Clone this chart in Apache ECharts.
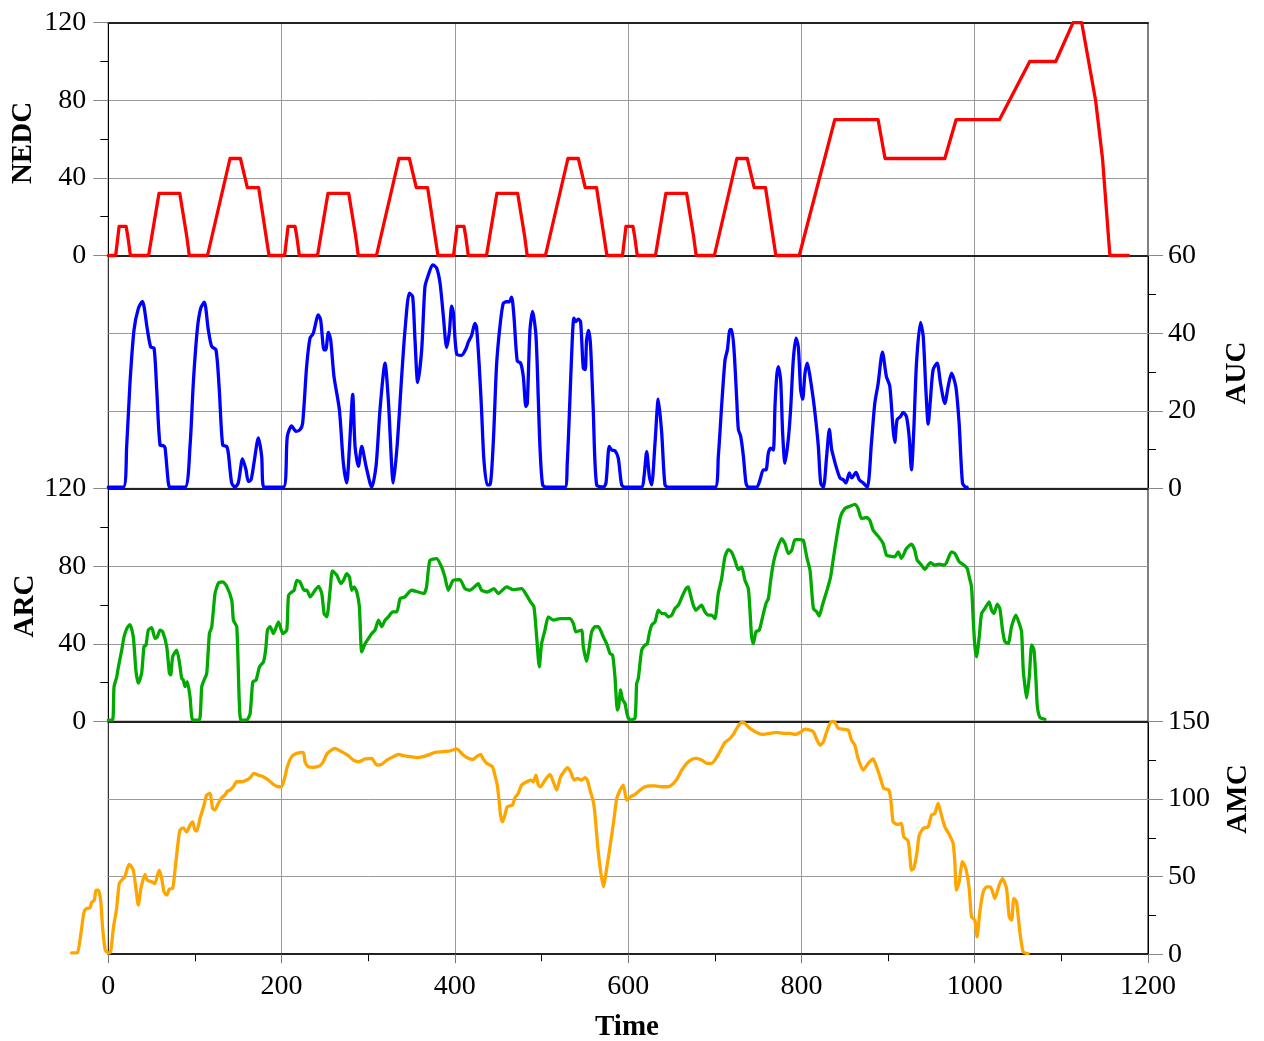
<!DOCTYPE html>
<html>
<head>
<meta charset="utf-8">
<title>NEDC / AUC / ARC / AMC</title>
<script src="https://cdn.jsdelivr.net/npm/echarts@6/dist/echarts.min.js"></script>
<style>
  html, body { margin: 0; padding: 0; background: #fff; }
  #chart { width: 1264px; height: 1041px; }
</style>
</head>
<body>
<div id="chart"></div>
<script>
// Tick values of the shared time axis and of each panel's value axis
const timeTicks = [0, 200, 400, 600, 800, 1000, 1200];
const nedcTicks = [0, 40, 80, 120];
const aucTicks = [0, 20, 40, 60];
const arcTicks = [0, 40, 80, 120];
const amcTicks = [0, 50, 100, 150];

// Panel titles
const panelNames = ['NEDC', 'AUC', 'ARC', 'AMC'];
const timeName = 'Time';

// NEDC speed profile: [time, speed]
const nedc = [
  [0,0],[8.5,0],[12.5,15],[20.5,15],[22.5,10],[25.5,0],[46.5,0],[58.5,32],[82.5,32],[90.5,10],[93.5,0],[114.5,0],[140.5,50],[152.5,50],[160.5,35],[173.5,35],[185.5,0],
  [203.5,0],[207.5,15],[215.5,15],[217.5,10],[220.5,0],[241.5,0],[253.5,32],[277.5,32],[285.5,10],[288.5,0],[309.5,0],[335.5,50],[347.5,50],[355.5,35],[368.5,35],[380.5,0],
  [398.5,0],[402.5,15],[410.5,15],[412.5,10],[415.5,0],[436.5,0],[448.5,32],[472.5,32],[480.5,10],[483.5,0],[504.5,0],[530.5,50],[542.5,50],[550.5,35],[563.5,35],[575.5,0],
  [593.5,0],[597.5,15],[605.5,15],[607.5,10],[610.5,0],[631.5,0],[643.5,32],[667.5,32],[675.5,10],[678.5,0],[699.5,0],[725.5,50],[737.5,50],[745.5,35],[758.5,35],[770.5,0],
  [797.5,0],[838.5,70],[888.5,70],[896.5,50],[965.5,50],[978.5,70],[1028.5,70],[1063.5,100],[1093.5,100],[1113.5,120],[1123.5,120],[1139.5,80],[1147.5,50],[1156,0],[1177.5,0]
];

// AUC trace: [time, value]
const auc = [
  [0,0.3],[17.3,0.3],[21.2,10.8],[25,27.1],[29.7,40.9],[34.7,46.4],[39.3,48.2],[45.1,40.9],[49,36.4],[52.8,36.2],[55.9,25.4],[59.7,11.2],[63.6,11],[65.5,10.5],[69.3,1.4],[71.2,0.3],
  [88.5,0.3],[94.3,10.8],[98.1,27.1],[102.7,40.9],[106.6,46.4],[110.8,48],[115.4,40.9],[119.3,36.6],[124.3,35.7],[128.1,25.4],[132,11.2],[136.6,10.8],[138.5,9.1],[142.4,1.4],[146.2,0.3],
  [150,1.4],[155,7.6],[158.9,4.8],[161.6,1.8],[164.7,2.2],[168.1,6.5],[173.2,13],[177,8.3],[179.7,0.3],[202,0.3],[206.6,13.4],[211.6,16.1],[216.6,14.7],[221.2,15.1],[224.3,16.8],
  [228.9,31.4],[232.8,38.7],[236.6,40],[242.4,44.7],[245.1,43.4],[249,35.7],[250.9,35.7],[254,40.2],[256.7,38.2],[260.5,28.8],[266.7,20.3],[271.3,6.5],[275.2,1.4],[278.2,10.1],
  [282.1,24.2],[284.8,10.8],[288.6,5.7],[292.5,10.8],[297.5,5.7],[304,0.3],[309,5.7],[313.6,20.3],[319.4,32.3],[323.2,22.8],[329,1.4],[333.6,11.7],[338.6,28.8],[342.5,40.9],
  [347.5,50.3],[351.3,49.4],[354,38.2],[357.1,27.3],[361.7,35.7],[365.5,52],[369.4,55],[374.4,57.6],[379,56.8],[382.9,52.9],[386.7,44.4],[390.5,36.3],[393.6,40.2],[396.3,47],
  [398.2,45.3],[402,34.7],[407.8,34.3],[412.8,36],[415.5,37.7],[419.3,39.4],[423.1,42.5],[425,41.6],[428.1,31.7],[430.8,20.3],[433.5,7.4],[437.3,0.9],[440.4,0.9],[444.3,11.7],
  [448.1,31.7],[452,41.7],[455.8,47.7],[459.7,48.1],[462.8,48.1],[465.5,49.3],[468.2,44.3],[472,32.8],[475.9,32.3],[479,28.8],[482,21.1],[483.6,21.9],[486.7,40.9],[489.7,45.6],
  [493.6,39.3],[496.3,23],[498.2,10.8],[501.3,0.9],[505.9,0.3],[527,0.3],[529.7,6.5],[532.8,23],[534.7,34],[537.4,43.9],[539.7,43],[542.4,43.6],[545.1,43],[548.2,31],[550.5,30.6],
  [552,38.2],[554.3,40.7],[556.6,36.8],[559.7,20.3],[563.6,0.9],[571.3,0.3],[574.4,1.4],[578.2,10.8],[580.9,9.9],[584.8,9.7],[588.6,7.8],[592.5,0.9],[596.3,0.3],[615.6,0.3],
  [618.3,3],[621.4,9.5],[624.5,3],[627.1,0.9],[631,11.7],[634.8,23],[638.7,14.4],[642.5,0.9],[646.4,0.3],[700.2,0.3],[704.1,8.3],[707.9,21.3],[711.8,33.1],[714.5,35.7],
  [717.6,40.9],[719.5,40.9],[722.2,35.7],[725.3,23],[727.2,15.2],[729.9,13.4],[733,8.3],[736,1.4],[738.7,0.3],[748.3,0.3],[752.2,2.2],[756,4.8],[759.1,4.8],[761.8,9.1],
  [764.5,10.4],[767.5,9.9],[769.5,21.3],[771.4,28.8],[773.3,31.4],[776,28],[778.3,14.3],[781,6.5],[784.8,12.6],[787.5,20.3],[790.6,33.1],[793.7,38.7],[796.4,36.5],[799.1,25.4],
  [801.4,23],[804.1,29.7],[806.8,32.3],[809.9,28.8],[813.7,23],[816.8,17.1],[819.5,10.8],[822.2,1.4],[825.3,0.3],[829.1,8.3],[832.2,15.2],[834.9,10],[836.8,8.3],[839.9,5.7],
  [844.5,2.7],[848.4,2.2],[851.4,1.4],[855.3,4],[858,2.7],[863,4.1],[866.8,2.2],[871.4,1.4],[876.1,0.3],[880.8,11.7],[884.6,21.8],[888.5,27],[893.5,35.1],[898.1,28.8],[902,26.3],
  [905.8,15.2],[907.7,11.9],[910.4,17.7],[914.3,18.5],[917.4,19.6],[921.2,18.5],[924.3,13.4],[927,4.8],[929.7,15.2],[932.8,32.3],[937.4,42.8],[940.5,39.3],[943.6,25.6],
  [946.3,16.6],[948.9,23],[952,30.6],[956.6,32.3],[960.5,27.1],[965.5,21.9],[969.3,26.2],[973.2,29.7],[978.2,26.2],[982,16.8],[985.9,1.4],[989.7,0.3],[991.3,0.3]
];

// ARC trace: [time, value]
const arc = [
  [0,0.7],[5,0.7],[6.6,17.8],[9.7,22.8],[11.6,27.9],[15.4,36.5],[18.1,43.4],[21.2,47.7],[25,49.9],[28.9,43.4],[32,25.7],[34.7,19.7],[38.5,24.9],[41.2,38.6],[43.5,39.4],
  [46.2,47.1],[50.1,48.3],[53.9,42.8],[56.6,43.6],[59.7,47.1],[62.8,46.2],[67.4,38.6],[70.5,24.9],[72,24],[74.3,33.3],[78.9,36.7],[82,30.7],[84.7,22.2],[86.6,21.3],[88.6,17.9],
  [91.2,20.5],[94.3,12.8],[97.4,0.7],[105.1,0.7],[107.8,17.8],[110.5,21.3],[113.6,24.7],[116.7,45.3],[119.4,48.7],[123.2,65.9],[127.1,71.3],[132.1,71.9],[136.7,69.6],[142.5,62.4],
  [144.4,52.2],[148.3,48.7],[152.9,0.7],[159.8,0.7],[163.7,4.1],[166.8,20.4],[170.6,21.3],[174.5,28.1],[179.1,30.7],[181.8,37.6],[183.7,47.1],[186.8,48.8],[190.6,45.3],
  [196.4,51.3],[201.4,45.3],[206,47.1],[208,65],[211.8,66.7],[214.5,67.6],[217.6,72.7],[221.4,71.9],[226,67.6],[229.1,67.6],[233,64.2],[238.7,67.6],[242.6,69.6],[246.4,65.9],
  [249.1,55.6],[252.2,53.9],[256,67.6],[258.7,77.6],[263.7,75.4],[268.3,71.1],[271.4,72.7],[275.2,76.1],[278.3,74.4],[281,67.6],[283.7,69.3],[286.8,66.7],[289.8,59],[292.5,35.8],
  [296.4,40.1],[300.2,42.7],[304.1,45.3],[307.9,47.1],[311.8,52.2],[315.6,48.8],[319.5,52.2],[323.3,53.9],[328.3,56.5],[333,56.5],[336.8,63.3],[342.3,64.2],[350,67.6],
  [357.7,66.7],[364.3,65.9],[367.3,69.3],[371.2,83],[378.9,83.9],[384.7,79.6],[388.5,74.4],[392.4,67.6],[398.1,72.7],[405.9,73.1],[411.6,68.4],[417.4,67.6],[423.2,69.6],[427,71],
  [430.8,67.6],[437.4,66.7],[445.1,68.4],[450.1,65.9],[459.7,69.3],[467.4,67.9],[477,68.4],[482.8,65],[487.4,61.6],[491.3,59],[494.4,43.6],[497.4,28.1],[500.1,40.1],[504,47.1],
  [507.8,53.9],[513.6,52.2],[521.3,53],[532.8,53],[536.7,50.5],[539.8,46.2],[546.3,47.1],[548.2,38.6],[552.1,30.9],[555.2,38.6],[557.9,46.2],[561.7,48.8],[565.6,48.8],
  [571.3,43.6],[575.2,40.1],[579,35],[582.1,34.1],[584.8,22.9],[587.5,5.8],[589,7.6],[591.3,16.2],[593.6,11.1],[596.3,9.3],[599,3.3],[602.1,0.7],[607.9,1.6],[609.8,19.5],
  [611.7,22.1],[615.6,36.7],[619.4,39.3],[622.1,40.1],[624.4,45.3],[627.1,49.6],[631,51.3],[634.8,57.3],[636.7,56.4],[639.4,55.6],[642.5,55.6],[646.3,53.9],[650.2,54.7],
  [654,58.2],[657.9,59.9],[662.9,65],[666.7,68.4],[669.4,69.3],[672.1,65],[675.2,59.9],[678.2,57.3],[682.1,59],[684.8,59.9],[688.6,56.5],[692.5,54.8],[696.3,54.8],[700.2,53],
  [704,65.9],[707.9,73.6],[711.7,84.8],[715.6,88.5],[719.4,87.3],[723.3,83],[727.1,78.2],[731,79.6],[734.8,72.7],[738.7,68.4],[740.6,57.3],[742.5,43.6],[744.5,40.1],
  [747.5,46.2],[751.4,47.1],[755.2,53.9],[759.1,60.8],[761.8,63.3],[764.5,72.7],[767.5,81.3],[771.4,88.2],[777.2,94.2],[781,91.6],[784.9,86.5],[788.8,88.2],[792.6,93.7],
  [798.4,93.7],[802.2,93.3],[806.1,84.8],[809.9,77.9],[813.8,58.2],[817.6,56.5],[820.4,54.3],[824.2,59.9],[828.9,66.7],[833.5,74.1],[836.5,83],[840.4,94.2],[845,105.4],
  [850,109.7],[855.8,110.9],[861.6,111.9],[865.4,109.7],[869.3,104.6],[875,105.1],[878.9,103.7],[882.7,98.6],[888.5,95.5],[894.3,91.7],[898.1,85.7],[902,85.2],[907.7,84.8],
  [911.6,87.4],[915.4,84],[921.2,89.1],[927,91.4],[930.8,88.3],[933.5,83.2],[938.5,80.6],[942.4,78.4],[948.9,81.8],[954,80.6],[959,81.1],[964.4,80.6],[967.4,81.8],[973.2,87.4],
  [977.1,86.6],[982.1,82.3],[987.5,80.6],[991.3,78.9],[993.6,74.6],[996.3,69.4],[998.3,52.3],[1000.2,38.5],[1002.1,33.3],[1005.2,43.6],[1007.9,55.6],[1011.7,58.2],[1016.7,61.6],
  [1019.4,57.3],[1022.1,55.6],[1026,60.4],[1029,58.2],[1032.1,47.1],[1034.8,41.1],[1038.7,40.2],[1042.5,48.8],[1047.5,54.8],[1051.4,50.5],[1054.1,46.2],[1056,26.6],[1058,18.1],
  [1059.9,12],[1063,23.1],[1065.7,39.4],[1068.4,36.8],[1070.7,21.3],[1072.3,7.6],[1075.3,2.1],[1081.1,1.1]
];

// AMC trace: [time, value] (recording starts slightly before t = 0)
const amc = [
  [-42.3,0.8],[-35.7,1],[-31.9,12.2],[-28,27.3],[-25,29.5],[-21.1,29.9],[-19.2,33.4],[-16.1,34.9],[-14.2,41.3],[-11.5,41.3],[-8.8,34.9],[-6.5,16.6],[-3.5,2.6],[0,0.8],[2.7,1.4],
  [5.8,16.6],[9.6,29.5],[12.7,45.6],[16.5,48.4],[19.2,49.9],[21.9,55.3],[24.2,57.9],[28.8,54.2],[31.9,42.4],[34.6,31.6],[37.7,42.4],[42.3,51.4],[45,47.7],[50,46.6],[53.9,45.5],
  [56.6,50.9],[58.9,54.2],[61.6,48.8],[64.3,40.2],[67.4,38],[70.4,41.9],[74.3,42.4],[77,54.2],[79.7,68.1],[82.7,79.9],[86.6,81.4],[90.4,78.8],[94.3,83.1],[97.4,85.2],[100,79.9],
  [102,79.3],[105.8,87.4],[110.4,96],[113.5,102.5],[117.3,103.6],[120.4,93.9],[123.1,92.9],[127,97.2],[130.8,100.8],[134.6,102.5],[137.3,105.1],[140.4,105.7],[144.3,107.9],
  [148.1,111.1],[153.9,111.1],[159.7,112.2],[163.5,113.7],[168.1,116.5],[173.1,115.4],[178.9,114.4],[184.7,112.2],[190.5,109.4],[196.2,107.9],[200.1,107.9],[203.9,114.4],
  [206.6,120.8],[211.6,127.3],[217.4,129.4],[225.1,130.1],[227,124],[230.8,120.8],[236.6,120.4],[244.3,121.5],[248.1,124],[252.8,129.4],[261.6,132.6],[269.3,130.5],[277,127.9],
  [282.8,125.1],[288.6,124],[296.3,125.8],[304,126.2],[309.8,121.9],[315.6,122.4],[321.4,125.1],[329.1,127.3],[334.8,128.8],[340.6,127.9],[348.3,127.3],[356,126.6],[363.7,127.3],
  [371.4,128.8],[377.2,130.1],[386.8,130.5],[394.5,131],[402.2,132.3],[409.6,128.3],[415.4,126.2],[421.2,125.5],[425,127.3],[429.7,128.8],[432.7,125.8],[436.6,123],[440.4,121.9],
  [443.5,120.8],[446.2,115.4],[448.9,109],[451.2,98.2],[452.7,89.6],[455,85.3],[457.7,89.6],[460.4,95],[463.5,95.6],[466.6,96.1],[469.3,100.8],[473.1,103.6],[477,109],
  [482.8,111.1],[487.4,112.2],[490.5,111.1],[493.6,115.4],[496.3,109],[499,107.9],[504,112.2],[509.8,115.8],[513.6,111.1],[517.5,105.7],[522.1,114.4],[525.9,117.6],[529.8,120.2],
  [533.6,117.6],[537.5,112.2],[541.3,113.3],[546.3,112.2],[550.2,113.7],[552.9,112.2],[556,105.7],[559.8,98.2],[561.8,89.6],[564.4,72.4],[567.5,56.3],[571.4,43.4],[575.2,55.2],
  [579.9,72.4],[583.7,87.4],[586.8,100.3],[590.6,105.7],[594.5,109],[598.3,99.3],[603,101.5],[608,103],[613.7,105.7],[619.5,107.9],[625.3,108.5],[631,108.5],[638.7,107.9],
  [646.4,107.9],[652.2,110],[656.8,113.3],[661.8,118.6],[667.6,123],[673.3,125.5],[679.1,126.2],[684.9,125.1],[690.6,123],[696.4,123],[701.4,126.2],[706.8,131.5],[711.8,136.5],
  [716.8,138.6],[721.4,141.6],[726.4,146.5],[731,149.3],[734.8,148.7],[740.6,145.5],[748.3,142.9],[756,141.6],[763.7,142.3],[771.4,142.9],[779.1,142.3],[786.8,142.3],[792.6,141.6],
  [798.4,142.9],[804.1,145],[809.9,144.4],[813.8,143.3],[816.8,139.4],[821.5,134.7],[825.3,136.9],[829.1,143.3],[833,148.7],[836.1,150],[838.8,149.3],[842.6,145.5],[853.9,144.4],
  [857.7,138],[861.6,134.7],[865.4,126.1],[871.2,118.6],[877,122.9],[882.7,125.8],[887.3,119.8],[891.2,113.3],[895,106.9],[901.1,105.7],[903.8,96.1],[905.8,85.3],[910.4,83.6],
  [915.4,84.2],[918.1,75.7],[923.1,72.9],[925.1,63.9],[927,54.2],[929.7,55.3],[933.5,66],[935.8,76.3],[940.5,81],[946.2,82.1],[950.1,89.6],[953.9,90.7],[957.8,97.1],[961.6,89.6],
  [965.5,82.1],[970.5,77.2],[975.1,71.4],[977,59.6],[978.9,41.3],[982,46.6],[985.9,59.6],[989.7,55.3],[993.6,42.4],[996.3,24.1],[1000.2,21.9],[1002.8,11.2],[1005.9,27.3],
  [1009.8,40.2],[1013.6,43.4],[1018.2,43.4],[1023.2,35.9],[1028.2,44.5],[1032.1,48.7],[1036.7,42.4],[1039.8,24.1],[1042.5,21.9],[1045.2,35.9],[1048.2,33.8],[1052.1,14.4],
  [1055.9,1.5],[1061.7,0.4]
];

// ---- layout & styling ----
const FONT = "'Liberation Serif', 'Times New Roman', serif";
const PLOT_LEFT = 108.3;
const PLOT_WIDTH = 1039.7;
const PANEL_TOPS = [22.7, 255.6, 488.6, 721.4];
const PANEL_H = 232.8;
const LINE_W = 3.3;
const AMC_T0 = -45;   // the AMC recording begins before the shared time origin

const tickRange = t => ({ min: t[0], max: t[t.length - 1], interval: t[1] - t[0] });
const tMax = timeTicks[timeTicks.length - 1];
const pxPerSec = PLOT_WIDTH / (tMax - timeTicks[0]);

const panels = [
  { data: nedc, color: '#ff0000', ticks: nedcTicks, side: 'left',  smooth: false },
  { data: auc,  color: '#0000ff', ticks: aucTicks,  side: 'right', smooth: 0.25 },
  { data: arc,  color: '#00aa00', ticks: arcTicks,  side: 'left',  smooth: 0.2 },
  { data: amc,  color: '#ffa500', ticks: amcTicks,  side: 'right', smooth: 0.2 }
];

const grid = PANEL_TOPS.map(top => ({
  left: PLOT_LEFT, width: PLOT_WIDTH, top: top, height: PANEL_H,
  show: true, borderColor: '#000', borderWidth: 1, backgroundColor: 'transparent',
  containLabel: false, outerBoundsMode: 'none'
}));
// extra, invisible grid for the AMC curve: same scale, extended to the left
grid.push({
  left: PLOT_LEFT + AMC_T0 * pxPerSec, width: PLOT_WIDTH + (-AMC_T0) * pxPerSec,
  top: PANEL_TOPS[3], height: PANEL_H, show: false, containLabel: false, outerBoundsMode: 'none'
});

const splitStyle = { show: true, showMinLine: false, showMaxLine: false, lineStyle: { color: '#9a9a9a', width: 1 } };
const hiddenAxis = { show: false, axisLine: { show: false }, axisTick: { show: false }, axisLabel: { show: false }, splitLine: { show: false } };

const xAxis = PANEL_TOPS.map((_, i) => Object.assign({
  type: 'value', gridIndex: i, position: 'bottom',
  axisLine: { show: true, onZero: false, lineStyle: { color: '#222', width: 2 } },
  axisTick: { show: i === 3, length: 9, lineStyle: { color: '#777', width: 1 } },
  minorTick: { show: i === 3, splitNumber: 2, length: 7, lineStyle: { color: '#000', width: 1 } },
  axisLabel: { show: i === 3, fontFamily: FONT, fontSize: 28, color: '#000', margin: 18, formatter: v => String(v) },
  splitLine: splitStyle
}, tickRange(timeTicks)));

// top frame line of the first panel
xAxis.push(Object.assign({
  type: 'value', gridIndex: 0, position: 'top',
  axisLine: { show: true, onZero: false, lineStyle: { color: '#222', width: 2 } },
  axisTick: { show: false }, axisLabel: { show: false }, splitLine: { show: false }
}, tickRange(timeTicks)));

// hidden time axis of the extended AMC grid
xAxis.push(Object.assign({ type: 'value', gridIndex: 4, min: AMC_T0, max: tMax }, hiddenAxis));

const yAxis = panels.map((s, i) => Object.assign({
  type: 'value', gridIndex: i, position: s.side,
  axisLine: { show: true, onZero: false, lineStyle: { color: '#000', width: 1 } },
  axisTick: { show: true, length: 15, lineStyle: { color: '#888', width: 1 } },
  minorTick: { show: true, splitNumber: 2, length: 8, lineStyle: { color: '#000', width: 1 } },
  axisLabel: { show: true, fontFamily: FONT, fontSize: 28, color: '#000', margin: s.side === 'left' ? 22 : 20 },
  splitLine: splitStyle
}, tickRange(s.ticks)));

yAxis.push(Object.assign({ type: 'value', gridIndex: 4, min: amcTicks[0], max: amcTicks[amcTicks.length - 1] }, hiddenAxis));

const axisFor = [[0, 0], [1, 1], [2, 2], [5, 4]];
const seriesOpt = panels.map((s, i) => ({
  type: 'line', name: panelNames[i], xAxisIndex: axisFor[i][0], yAxisIndex: axisFor[i][1],
  data: s.data, showSymbol: false, smooth: s.smooth, clip: false,
  lineStyle: { color: s.color, width: LINE_W, join: 'round', cap: 'round' },
  itemStyle: { color: s.color }, z: 3, animation: false
}));

const nameText = (text, x, y, rot) => ({
  type: 'text', x: x, y: y, rotation: rot,
  style: { text: text, fontFamily: FONT, fontWeight: 'bold', fontSize: 29, fill: '#000', align: 'center', verticalAlign: 'middle' }
});

const chart = echarts.init(document.getElementById('chart'), null, { renderer: 'canvas' });
chart.setOption({
  animation: false,
  backgroundColor: '#fff',
  grid: grid,
  xAxis: xAxis,
  yAxis: yAxis,
  series: seriesOpt,
  graphic: [
    nameText(panelNames[0], 24, 143, Math.PI / 2),
    nameText(panelNames[1], 1238, 373, Math.PI / 2),
    nameText(panelNames[2], 26, 606, Math.PI / 2),
    nameText(panelNames[3], 1239, 799, Math.PI / 2),
    nameText(timeName, 627, 1028, 0)
  ]
});
</script>
</body>
</html>
